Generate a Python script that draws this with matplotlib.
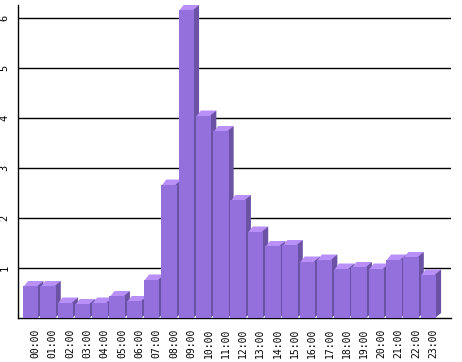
import matplotlib
matplotlib.use("Agg")
import matplotlib.pyplot as plt
from matplotlib.transforms import ScaledTranslation

hours = ["%02d:00" % h for h in range(24)]
values = [0.64, 0.64, 0.31, 0.28, 0.31, 0.44, 0.34, 0.77,
          2.67, 6.16, 4.05, 3.74, 2.36, 1.73, 1.44, 1.46,
          1.13, 1.17, 0.99, 1.02, 0.99, 1.17, 1.22, 0.87]
y_ticks = [1, 2, 3, 4, 5, 6]

FRONT = "#9370DB"
TOP = "#B890F8"
SIDE = "#6B52A5"

W = 0.896      # front face width (slot = 1)
DX = 0.289     # depth, x units
DY = 0.10      # depth, y units

fig = plt.figure(figsize=(4.62, 3.62), dpi=100)
ax = fig.add_axes([18 / 462, 44 / 362, 433 / 462, 313 / 362])

for i, v in enumerate(values):
    z = 3 + i * 0.01
    left = i - W / 2
    right = i + W / 2
    # side and top first, slightly tucked under the front to avoid seams
    ax.fill([left, right, right + DX, left + DX], [v - 0.03, v - 0.03, v + DY, v + DY],
            color=TOP, linewidth=0, zorder=z)
    ax.fill([right - 0.06, right + DX, right + DX, right - 0.06], [0, DY, v + DY, v],
            color=SIDE, linewidth=0, zorder=z)
    ax.bar(i, v, width=W, color=FRONT, linewidth=0, zorder=z + 0.001)

ax.set_xlim(-0.737, 24.31)
ax.set_ylim(0, 6.26)

ax.set_xticks([i + 0.28 for i in range(24)])
ax.set_xticklabels(hours, rotation=90, family="DejaVu Sans Mono", fontsize=7,
                   va="top", ha="center")
ax.set_yticks(y_ticks)
ax.set_yticklabels([str(t) for t in y_ticks], rotation=90,
                   family="DejaVu Sans Mono", fontsize=7.5, va="center")
for lab in ax.get_yticklabels():
    lab.set_transform(lab.get_transform() + ScaledTranslation(0, 0.05, fig.dpi_scale_trans))

ax.tick_params(axis="x", length=0, pad=7.5)
ax.tick_params(axis="y", length=0, pad=6)
ax.yaxis.grid(True, color="black", linewidth=1.0)
ax.set_axisbelow(True)

for s in ["top", "right"]:
    ax.spines[s].set_visible(False)
ax.spines["left"].set_linewidth(1.0)
ax.spines["bottom"].set_linewidth(1.0)

fig.savefig("out.png", dpi=100)
